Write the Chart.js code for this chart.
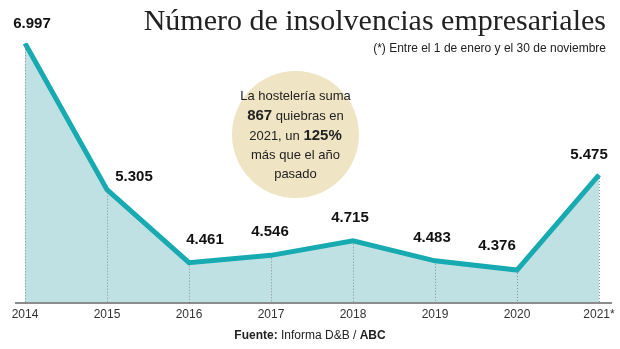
<!DOCTYPE html>
<html>
<head>
<meta charset="utf-8">
<script src="https://cdn.jsdelivr.net/npm/chart.js@4"></script>
<style>
  body { margin: 0; background: #fff; }
  #wrap { position: relative; width: 620px; height: 349px; overflow: hidden; font-family: "Liberation Sans", Arial, sans-serif; }
  #title { position: absolute; right: 14px; top: 3px; font-family: "Liberation Serif", "DejaVu Serif", serif; font-size: 30px; color: #222; white-space: nowrap; }
  #sub { position: absolute; right: 14px; top: 41px; font-size: 12px; color: #222; }
  #bubble { position: absolute; left: 232px; top: 71px; width: 127px; height: 127px; border-radius: 50%; background: #efe4c3;
    display: flex; align-items: center; justify-content: center; text-align: center; font-size: 13px; line-height: 19px; color: #222; }
  #src { position: absolute; left: 0; width: 620px; top: 328px; text-align: center; font-size: 12px; color: #222; }
  canvas { position: absolute; left: 0; top: 0; }
</style>
</head>
<body>
<div id="wrap">
  <canvas id="chart" width="620" height="349"></canvas>
  <div id="title">Número de insolvencias empresariales</div>
  <div id="sub">(*) Entre el 1 de enero y el 30 de noviembre</div>
  <div id="bubble"><div>La hostelería suma<br><b style="font-size:15px">867</b> quiebras en<br>2021, un <b style="font-size:15px">125%</b><br>más que el año<br>pasado</div></div>
  <div id="src"><b>Fuente:</b> Informa D&amp;B / <b>ABC</b></div>
</div>
<script>
const years = ['2014', '2015', '2016', '2017', '2018', '2019', '2020', '2021*'];
const insolvencias = [6997, 5305, 4461, 4546, 4715, 4483, 4376, 5475];
const valueLabels = ['6.997', '5.305', '4.461', '4.546', '4.715', '4.483', '4.376', '5.475'];

// where each value label sits relative to its point
const labelShift = [[7, -19], [27, -13], [16, -23], [-1, -23], [-3, -23], [-3, -23], [-20, -24], [-10, -20]];

const extras = {
  id: 'extras',
  afterDatasetsDraw(chart) {
    const ctx = chart.ctx;
    const meta = chart.getDatasetMeta(0);
    const area = chart.chartArea;
    ctx.save();
    // dotted drop lines
    ctx.strokeStyle = '#7f9193';
    ctx.lineWidth = 1;
    ctx.setLineDash([1, 2]);
    meta.data.forEach(function (p) {
      ctx.beginPath();
      ctx.moveTo(Math.round(p.x) + 0.5, p.y + 3);
      ctx.lineTo(Math.round(p.x) + 0.5, area.bottom);
      ctx.stroke();
    });
    ctx.setLineDash([]);
    ctx.strokeStyle = '#666';
    ctx.lineWidth = 1.5;
    ctx.beginPath();
    ctx.moveTo(area.left - 10, area.bottom + 0.5);
    ctx.lineTo(area.right + 13, area.bottom + 0.5);
    ctx.stroke();
    ctx.fillStyle = '#111';
    ctx.font = 'bold 15px "Liberation Sans", Arial, sans-serif';
    ctx.textAlign = 'center';
    ctx.textBaseline = 'middle';
    meta.data.forEach(function (p, i) {
      ctx.fillText(valueLabels[i], p.x + labelShift[i][0], p.y + labelShift[i][1]);
    });
    ctx.restore();
  }
};

new Chart(document.getElementById('chart'), {
  type: 'line',
  data: {
    labels: years,
    datasets: [{
      data: insolvencias,
      borderColor: '#17aab0',
      borderWidth: 5,
      backgroundColor: '#c0e1e3',
      fill: 'start',
      pointRadius: 0,
      tension: 0
    }]
  },
  options: {
    responsive: false,
    animation: false,
    layout: { padding: { left: 25, right: 21, top: 43, bottom: 30 } },
    plugins: { legend: { display: false }, tooltip: { enabled: false } },
    scales: {
      x: {
        offset: false,
        grid: { display: false },
        border: { display: false },
        ticks: { color: '#333', font: { size: 12, family: '"Liberation Sans", Arial, sans-serif' }, padding: -3, maxRotation: 0, autoSkip: false }
      },
      y: { display: false, min: 4000, max: 7000 }
    }
  },
  plugins: [extras]
});
</script>
</body>
</html>
